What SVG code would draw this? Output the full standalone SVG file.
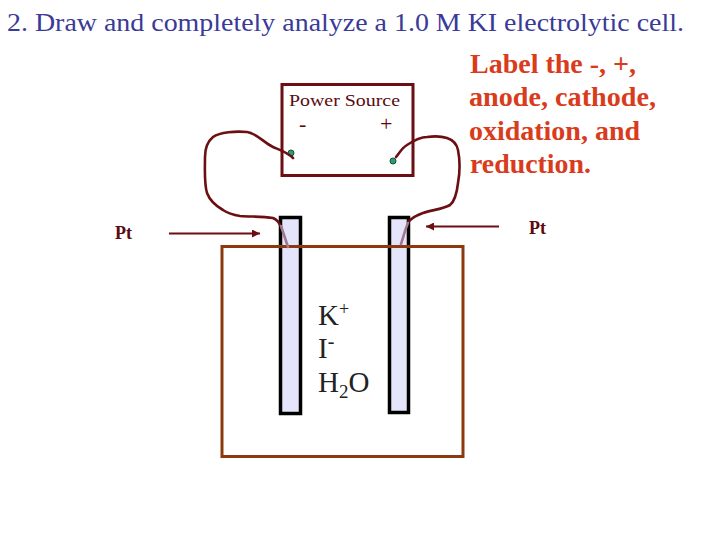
<svg xmlns="http://www.w3.org/2000/svg" width="720" height="540" viewBox="0 0 720 540">
<defs>
<marker id="ah" markerUnits="userSpaceOnUse" markerWidth="9" markerHeight="8" refX="8" refY="4" orient="auto"><path d="M0 0L8 4L0 8Z" fill="#6b0f12"/></marker>
</defs>
<style>
text{font-family:"Liberation Serif","Times New Roman",serif}
.t{fill:#3a3a98;font-size:25px}
.b{fill:#d93c1c;font-size:27px;font-weight:bold}
.p{fill:#5a0a10;font-size:16.5px}
.pt{fill:#5a0a10;font-size:18px;font-weight:bold}
.ion{fill:#222;font-size:29px}
.w{fill:none;stroke:#6b0f12;stroke-width:2.6;stroke-linecap:round;stroke-linejoin:round}
.wi{fill:none;stroke:#a07890;stroke-width:2.6;stroke-linecap:round}
.e{fill:#e4e4fa;stroke:#000;stroke-width:3.5}
.a{fill:none;stroke:#6b0f12;stroke-width:2}
.dot{fill:#2aa070;stroke:#14503a;stroke-width:1}
</style>
<text class="t" x="7" y="31" textLength="677" lengthAdjust="spacingAndGlyphs">2. Draw and completely analyze a 1.0 M KI electrolytic cell.</text>
<g id="label" class="b">
<text x="470" y="73" textLength="166" lengthAdjust="spacingAndGlyphs">Label the -, +,</text>
<text x="469" y="106" textLength="187" lengthAdjust="spacingAndGlyphs">anode, cathode,</text>
<text x="469" y="140" textLength="171" lengthAdjust="spacingAndGlyphs">oxidation, and</text>
<text x="470" y="173" textLength="121" lengthAdjust="spacingAndGlyphs">reduction.</text>
</g>
<g id="electrode-left"><rect class="e" x="280.500" y="217.500" width="20" height="196"/></g>
<g id="electrode-right"><rect class="e" x="389.500" y="217.500" width="19" height="195"/></g>
<g id="beaker"><rect x="222" y="246.500" width="241" height="210" fill="none" stroke="#8b3a0e" stroke-width="3"/></g>
<g id="power-source">
<rect x="282" y="84.500" width="131" height="91" fill="none" stroke="#6b0f12" stroke-width="3"/>
<text class="p" x="289" y="106" textLength="111" lengthAdjust="spacingAndGlyphs">Power Source</text>
<text class="p" x="299" y="131" font-size="22" style="font-size:22px">-</text>
<text class="p" x="380" y="131" style="font-size:22px">+</text>
<circle class="dot" cx="291" cy="153" r="3"/>
<circle class="dot" cx="393" cy="161" r="3"/>
</g>
<g id="connectors">
<path class="w" d="M293 158C287 152 280 150 273 147C263 142 256 133 247 132C236 131 220 132 213 137C207 142 205 150 205 157C205 170 204 183 207 193C210 201 216 206 223 210C229 214 234 215 240 216C251 217 262 216 273 218C277 220 279 222 280 225"/>
<path class="w" d="M396 157C400 152 402 148 407 145C413 141 420 137 427 137C434 136 441 136 447 138C453 140 457 145 458 150C460 160 460 172 458 183C457 192 455 201 450 205C443 209 432 210 423 213C417 215 412 218 408 222"/>
<path class="wi" d="M281 226L288 247"/>
<path class="wi" d="M408 223C405 230 403 238 401 244"/>
<path class="a" marker-end="url(#ah)" d="M169 233.500H260"/>
<path class="a" marker-end="url(#ah)" d="M499 226.500H426"/>
</g>
<g id="pt-left"><text class="pt" x="115" y="239">Pt</text></g>
<g id="pt-right"><text class="pt" x="529" y="234">Pt</text></g>
<g id="ions" class="ion">
<text x="318" y="325">K<tspan font-size="18" dy="-10">+</tspan></text>
<text x="318" y="358">I<tspan font-size="20" dy="-10">-</tspan></text>
<text x="318" y="392">H<tspan font-size="19" dy="6">2</tspan><tspan dy="-6">O</tspan></text>
</g>
</svg>
